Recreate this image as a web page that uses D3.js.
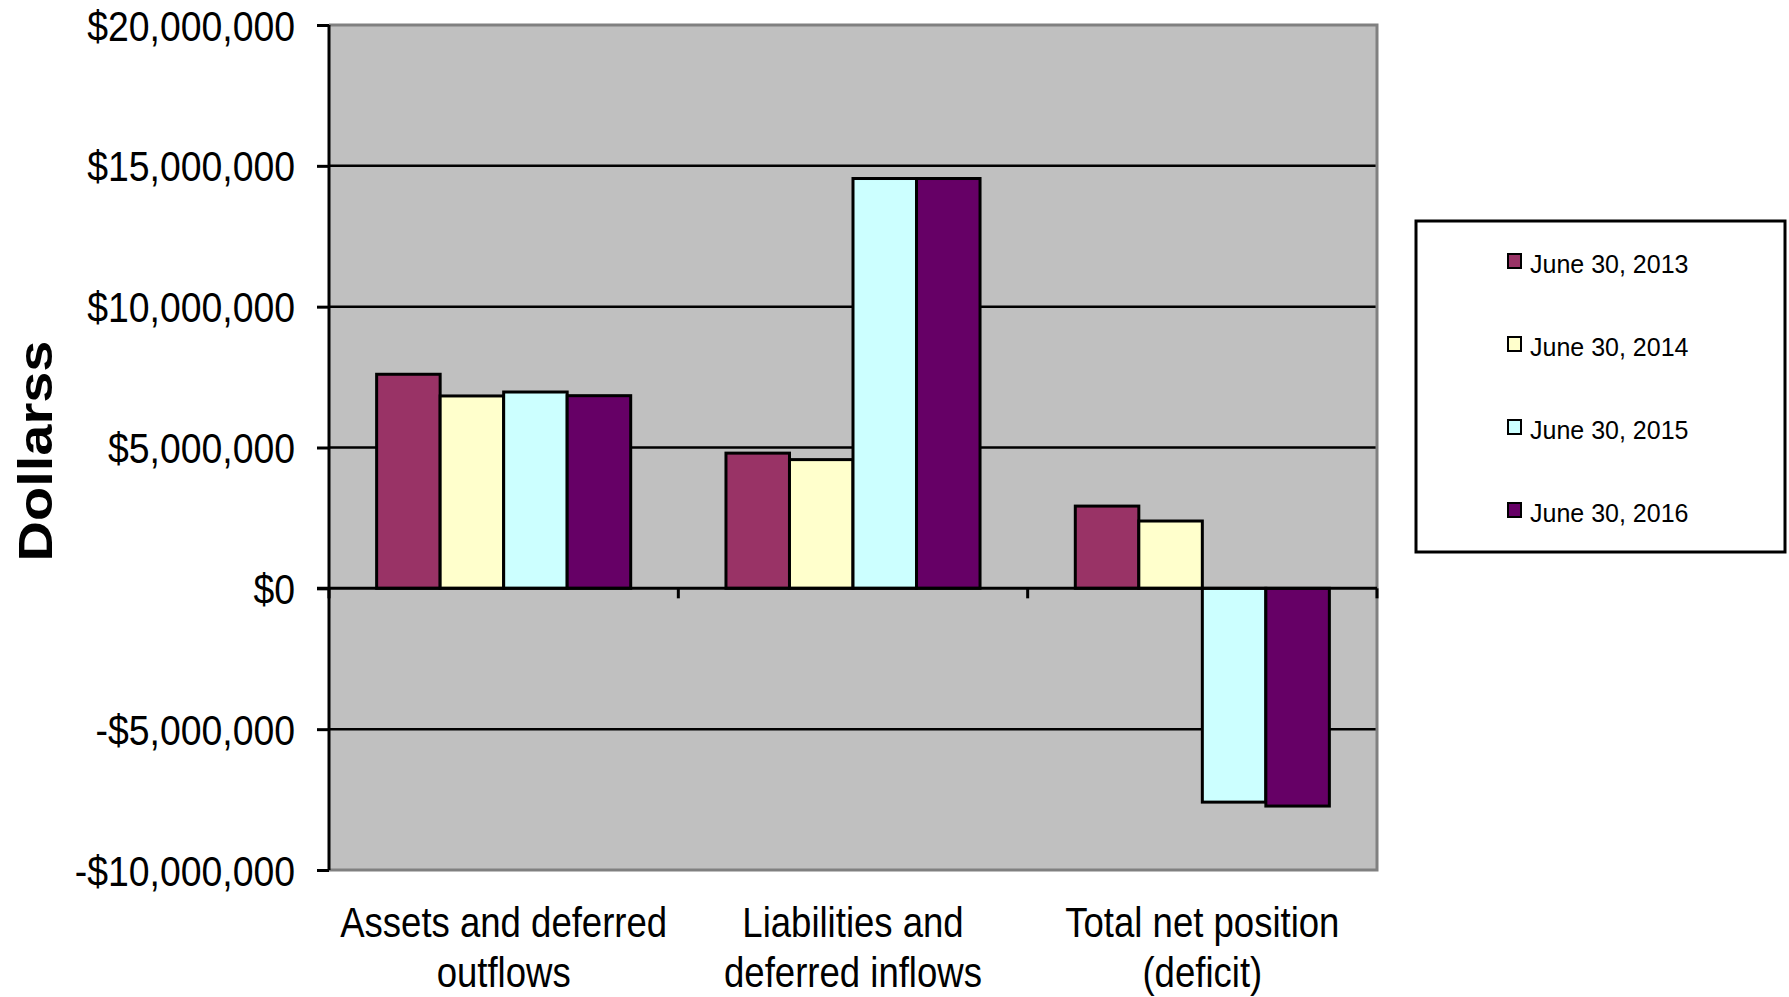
<!DOCTYPE html>
<html>
<head>
<meta charset="utf-8">
<script src="https://cdn.jsdelivr.net/npm/d3@7"></script>
<style>
  html, body { margin: 0; padding: 0; background: #ffffff; }
  svg { display: block; }
  text { font-family: "Liberation Sans", Arial, sans-serif; fill: #000; }
</style>
</head>
<body>
<svg id="chart" width="1789" height="997"></svg>
<script>
// ---- data ----
const categories = ["Assets and deferred outflows", "Liabilities and deferred inflows", "Total net position (deficit)"];
const categoryLines = [["Assets and deferred", "outflows"], ["Liabilities and", "deferred inflows"], ["Total net position", "(deficit)"]];
const seriesNames = ["June 30, 2013", "June 30, 2014", "June 30, 2015", "June 30, 2016"];
const values2013 = [7600000, 4800000, 2920000];
const values2014 = [6830000, 4570000, 2390000];
const values2015 = [6970000, 14550000, -7590000];
const values2016 = [6840000, 14550000, -7730000];
const seriesColors = ["#993366", "#FFFFCC", "#CCFFFF", "#660066"];
const yTickValues = [-10000000, -5000000, 0, 5000000, 10000000, 15000000, 20000000];
const yTitle = "Dollarss";

const seriesValues = [values2013, values2014, values2015, values2016];

// ---- layout ----
const svg = d3.select("#chart");
const pLeft = 329, pRight = 1377, pTop = 25, pBottom = 870;

const x = d3.scaleBand().domain(categories).range([pLeft, pRight]).paddingInner(0).paddingOuter(0);
const xs = d3.scaleBand().domain(seriesNames).range([0, x.bandwidth()]).paddingInner(0).paddingOuter(0.75);
const y = d3.scaleLinear().domain([-10000000, 20000000]).range([pBottom, pTop]);

const fmt = v => (v < 0 ? "-$" : "$") + d3.format(",")(Math.abs(v));

// plot background
svg.append("rect").attr("x", pLeft).attr("y", pTop).attr("width", pRight - pLeft).attr("height", pBottom - pTop)
  .attr("fill", "#C0C0C0");

// gridlines (interior)
svg.append("g").selectAll("line").data(yTickValues.filter(v => v !== 0 && v !== 20000000 && v !== -10000000))
  .join("line")
  .attr("x1", pLeft).attr("x2", pRight)
  .attr("y1", d => y(d)).attr("y2", d => y(d))
  .attr("stroke", "#000").attr("stroke-width", 2.5);

// frame (gray top/right/bottom)
svg.append("path")
  .attr("d", `M${pLeft},${pTop}H${pRight}V${pBottom}H${pLeft}`)
  .attr("fill", "none").attr("stroke", "#808080").attr("stroke-width", 3);

// bars
const barData = [];
seriesValues.forEach((vals, si) => {
  vals.forEach((v, ci) => barData.push({ s: seriesNames[si], c: categories[ci], v, color: seriesColors[si] }));
});
svg.append("g").selectAll("rect").data(barData).join("rect")
  .attr("x", d => x(d.c) + xs(d.s))
  .attr("width", xs.bandwidth())
  .attr("y", d => y(Math.max(0, d.v)))
  .attr("height", d => Math.abs(y(d.v) - y(0)))
  .attr("fill", d => d.color)
  .attr("stroke", "#000").attr("stroke-width", 3);

// zero line (category axis)
const xAxisG = svg.append("g").attr("transform", `translate(0,${y(0)})`);
xAxisG.append("line").attr("x1", pLeft - 12).attr("x2", pRight).attr("y1", 0).attr("y2", 0)
  .attr("stroke", "#000").attr("stroke-width", 3);
const boundaries = categories.map(c => x(c)).concat([x(categories[categories.length - 1]) + x.bandwidth()]);
xAxisG.selectAll("line.tk").data(boundaries).join("line").attr("class", "tk")
  .attr("x1", d => d).attr("x2", d => d).attr("y1", 0).attr("y2", 10)
  .attr("stroke", "#000").attr("stroke-width", 3);

// y axis
const yAxis = d3.axisLeft(y).tickValues(yTickValues).tickSize(12).tickFormat(fmt);
const yAxisG = svg.append("g").attr("transform", `translate(${pLeft},0)`).call(yAxis);
yAxisG.select(".domain").attr("stroke", "#000").attr("stroke-width", 3).attr("d", `M0,${pTop}V${pBottom}`);
yAxisG.selectAll(".tick line").attr("stroke", "#000").attr("stroke-width", 3);
yAxisG.selectAll(".tick text")
  .attr("x", -34 / 0.89).attr("dy", "0.36em")
  .attr("transform", "scale(0.89,1)")
  .style("font-size", "42px")
  .attr("fill", "#000");

// category labels
const catG = svg.append("g");
categories.forEach((c, i) => {
  const cx = x(c) + x.bandwidth() / 2;
  categoryLines[i].forEach((line, li) => {
    catG.append("text")
      .attr("transform", `translate(${cx},${937 + li * 50}) scale(0.87,1)`)
      .attr("text-anchor", "middle")
      .style("font-size", "42px")
      .text(line);
  });
});

// y axis title
svg.append("text")
  .attr("transform", `translate(52,451) rotate(-90) scale(1,0.86)`)
  .attr("text-anchor", "middle")
  .style("font-size", "56px").style("font-weight", "bold")
  .text(yTitle);

// legend
const lg = svg.append("g");
lg.append("rect").attr("x", 1416).attr("y", 221).attr("width", 369).attr("height", 331)
  .attr("fill", "#fff").attr("stroke", "#000").attr("stroke-width", 3);
const ly = d3.scalePoint().domain(seriesNames).range([273, 522]);
const items = lg.selectAll("g.item").data(seriesNames).join("g").attr("class", "item")
  .attr("transform", d => `translate(1508,${ly(d)})`);
items.append("rect").attr("x", 0).attr("y", -19).attr("width", 13).attr("height", 14)
  .attr("fill", (d, i) => seriesColors[i]).attr("stroke", "#000").attr("stroke-width", 2);
items.append("text").attr("x", 22).attr("y", 0).style("font-size", "25px").text(d => d);
</script>
</body>
</html>
